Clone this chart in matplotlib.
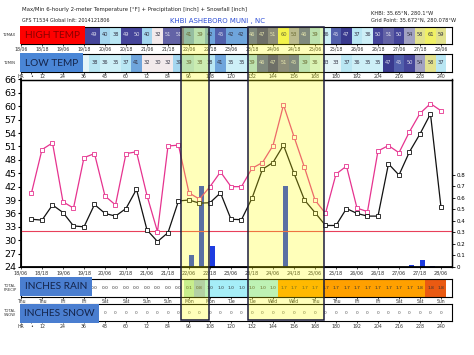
import matplotlib
matplotlib.use('Agg')
import matplotlib.pyplot as plt
import numpy as np
from matplotlib.colors import ListedColormap, BoundaryNorm
from matplotlib.patches import Rectangle

W, H = 474, 355

# forecast hours (every 6 h from init 2014121806)
hours = list(range(6, 241, 6))
t_max = [40.6, 50.3, 51.8, 38.6, 37.2, 48.5, 49.4, 39.9, 37.9, 49.4,
         49.8, 40.0, 31.9, 51.1, 51.3, 40.6, 39.2, 42.0, 45.3, 42.0,
         42.0, 46.1, 47.4, 51.2, 60.3, 53.2, 46.3, 39.0, 36.0, 44.8,
         46.6, 37.2, 36.4, 50.0, 51.2, 49.6, 54.3, 58.4, 60.6, 59.0]
t_min = [34.7, 34.5, 37.9, 36.2, 33.2, 33.0, 38.0, 36.0, 35.4, 37.1,
         41.4, 32.3, 29.7, 31.7, 38.8, 39.0, 38.3, 38.4, 40.6, 34.7,
         34.6, 39.4, 45.9, 47.4, 51.3, 45.0, 39.0, 36.2, 33.3, 33.3,
         37.1, 36.0, 35.4, 35.4, 47.1, 44.6, 49.8, 53.8, 58.3, 37.4]
precip_hours = [96, 102, 108, 150, 222, 228, 234]
precip = [0.10, 0.70, 0.18, 0.70, 0.02, 0.06, 0.01]
snow = [0] * len(hours)

date_labels = ['18/06', '18/18', '19/06', '19/18', '20/06', '20/18', '21/06',
               '21/18', '22/06', '22/18', '23/06', '23/18', '24/06', '24/18',
               '25/06', '25/18', '26/06', '26/18', '27/06', '27/18', '28/06']
day_labels = ['Thu', 'Thu', 'Fri', 'Fri', 'Sat', 'Sat', 'Sun', 'Sun', 'Mon',
              'Mon', 'Tue', 'Tue', 'Wed', 'Wed', 'Thu', 'Thu', 'Fri', 'Fri',
              'Sat', 'Sat', 'Sun']
hr_ticks = [0, 6] + list(range(12, 241, 12))
hr_labels = ['HR', '\u2022'] + [str(h) for h in range(12, 241, 12)]
label_ticks = list(range(0, 241, 12))

highlights = [(91.7, 107.7), (129.7, 173.1)]

XMAX = 246.3
X0, X1 = 21, 452
px_per_h = (X1 - X0) / XMAX

# temperature colour table
t_bounds = [0, 32.5, 34.5, 36.5, 38.5, 40.5, 42.5, 44.5, 46.5, 48.5, 50.5,
            52.5, 55.5, 57.5, 59.5, 100]
t_colors = ['#f2eaec', '#e4f4f8', '#cdeff7', '#b9e6f3', '#a4d6ef', '#6fa5dc',
            '#4f82c8', '#5260ac', '#393a8e', '#45459a', '#6363a6', '#a2a2c2',
            '#c8c8a0', '#e2e28e', '#f0f066']
t_cmap = ListedColormap(t_colors)
t_norm = BoundaryNorm(t_bounds, t_cmap.N)

p_bounds = [0, 0.05, 0.5, 0.95, 1.5, 1.765, 10]
p_colors = ['#ffffff', '#b4e8c0', '#98c0e0', '#a6eef8', '#ffa000', '#ea5a12']
p_cmap = ListedColormap(p_colors)
p_norm = BoundaryNorm(p_bounds, p_cmap.N)

fig = plt.figure(figsize=(W / 100, H / 100), dpi=100)


def ax_px(x0, y0, x1, y1):
    return fig.add_axes([x0 / W, 1 - y1 / H, (x1 - x0) / W, (y1 - y0) / H])


def fig_rect(x0, y0, x1, y1, **kw):
    r = Rectangle((x0 / W, 1 - y1 / H), (x1 - x0) / W, (y1 - y0) / H,
                  transform=fig.transFigure, **kw)
    fig.add_artist(r)
    return r


def fig_text(x, y, s, **kw):
    fig.text(x / W, 1 - y / H, s, **kw)


def row_axes(y0, y1, ticklabels, ticks):
    a = ax_px(X0, y0, X1, y1)
    a.set_xlim(0, XMAX)
    a.set_ylim(0, 1)
    a.set_yticks([])
    a.set_xticks(ticks)
    a.set_xticklabels(ticklabels, fontsize=3.3, color='#333333')
    a.tick_params(axis='x', length=1.5, width=0.5, pad=0.6)
    for s in a.spines.values():
        s.set_linewidth(0.8)
    return a


def visible(h, box_right):
    # cells hidden under the label box get no number
    return X0 + h * px_per_h > box_right + 2


def temp_row(a, vals, box_right):
    for h, v in zip(hours, vals):
        c = t_cmap(t_norm(v))
        a.add_patch(Rectangle((h - 3, 0), 6, 1, facecolor=c, edgecolor='none'))
        if not visible(h, box_right):
            continue
        lum = 0.3 * c[0] + 0.59 * c[1] + 0.11 * c[2]
        a.text(h, 0.5, f'{int(round(v))}', fontsize=3.7, ha='center',
               va='center', color='#dcdcec' if lum < 0.45 else '#333344')


# top rows
ax_tmax = row_axes(26.5, 43.5, date_labels, label_ticks)
temp_row(ax_tmax, t_max, 85)
ax_tmin = row_axes(54.5, 71.5, hr_labels, hr_ticks)
temp_row(ax_tmin, t_min, 83)

# main panel
ax = ax_px(X0, 79.5, X1, 267)
ax2 = ax.twinx()
ax.set_zorder(ax2.get_zorder() + 1)
ax.patch.set_visible(False)
ax.set_xlim(0, XMAX)
ax.set_ylim(24, 66)
ax.set_yticks(range(24, 67, 3))
ax.tick_params(axis='y', labelsize=6.8, length=2.5, width=0.8, pad=1)
ax.set_xticks(label_ticks)
ax.set_xticklabels(date_labels, fontsize=3.5, color='#333333')
ax.tick_params(axis='x', length=1.5, width=0.5, pad=1.2)
ax.axhline(32, color='#e8405a', lw=0.8, zorder=1)
ax.plot(hours, t_max, color='#e6338f', lw=0.9, marker='s', ms=3.0,
        mfc='white', mec='#e6338f', mew=0.6, zorder=3)
ax.plot(hours, t_min, color='#111111', lw=0.9, marker='s', ms=3.0,
        mfc='white', mec='#111111', mew=0.6, zorder=3)
for s in ax.spines.values():
    s.set_linewidth(1.0)
ax.spines['left'].set_linewidth(1.3)
ax.spines['bottom'].set_linewidth(1.3)

ax2.set_ylim(0, 1.625)
ax2.bar(precip_hours, precip, width=2.8, color='#1e3ce0', align='edge')
ax2.set_yticks(np.arange(0, 0.81, 0.1))
ax2.set_yticklabels(['0'] + [f'{v:.1f}' for v in np.arange(0.1, 0.81, 0.1)])
ax2.tick_params(axis='y', labelsize=4, length=2, width=0.6, pad=1)

# bottom rows
ax_rain = row_axes(279, 296.5, day_labels, label_ticks)
cum = np.zeros(len(hours))
for ph, pv in zip(precip_hours, precip):
    cum[hours.index(ph):] += pv
for h, v in zip(hours, cum):
    ax_rain.add_patch(Rectangle((h - 3, 0), 6, 1, facecolor=p_cmap(p_norm(v)),
                                edgecolor='none'))
    if visible(h, 92):
        ax_rain.text(h, 0.5, f'{v:.1f}', fontsize=3.2, ha='center',
                     va='center', color='#333333')

ax_snow = row_axes(304, 321, hr_labels, hr_ticks)
for h, v in zip(hours, snow):
    if visible(h, 99):
        ax_snow.text(h, 0.5, f'{v}', fontsize=3.2, ha='center', va='center',
                     color='#555555')

# row labels
for y, s in [(35, 'T2MAX'), (63, 'T2MIN'), (288, 'TOTAL\nPRECIP'),
             (313, 'TOTAL\nSNOW')]:
    fig_text(10, y, s, fontsize=2.7, ha='center', va='center',
             color='#333333', linespacing=1.0)

# highlighted periods
for h0, h1 in highlights:
    fig_rect(X0 + h0 * px_per_h, 26.5, X0 + h1 * px_per_h, 320,
             facecolor=(1, 1, 0, 0.27), edgecolor='#1c1c3c', lw=1.1, zorder=20)

# label boxes
boxes = [(20, 26.5, 85, 44, '#ff0000', 'HIGH TEMP', '#8a0000'),
         (20, 53.5, 83, 72, '#4a86d6', 'LOW TEMP', '#14244a'),
         (20, 276.5, 92, 296, '#4a7ed0', 'INCHES RAIN', '#14244a'),
         (20, 304, 99, 322.5, '#4a7ed0', 'INCHES SNOW', '#14244a')]
for x0, y0, x1, y1, fc, s, tc in boxes:
    fig_rect(x0, y0, x1, y1, facecolor=fc, edgecolor='none', zorder=25)
    fig_text((x0 + x1) / 2, (y0 + y1) / 2 + 0.5, s, fontsize=7.3,
             family=['Liberation Sans Narrow', 'Lato'], ha='center',
             va='center', color=tc, zorder=26)

# titles
fig_text(22, 10, 'Max/Min 6-hourly 2-meter Temperature [\u00b0F] + '
         'Precipitation [inch] + Snowfall [inch]', fontsize=3.9,
         va='center', color='#222222')
fig_text(22, 20.7, 'GFS T1534 Global Init: 2014121806', fontsize=3.5,
         va='center', color='#222222')
fig_text(218, 20.7, 'KHBI ASHEBORO MUNI , NC', fontsize=5, va='center',
         ha='center', color='#2f4fd6')
fig_text(371, 13.3, 'KHBI: 35.65\u00b0N, 280.1\u00b0W', fontsize=3.7,
         va='center', color='#222222')
fig_text(371, 20.7, 'Grid Point: 35.672\u00b0N, 280.078\u00b0W', fontsize=3.7,
         va='center', color='#222222')

fig.savefig('out.png', dpi=100)
